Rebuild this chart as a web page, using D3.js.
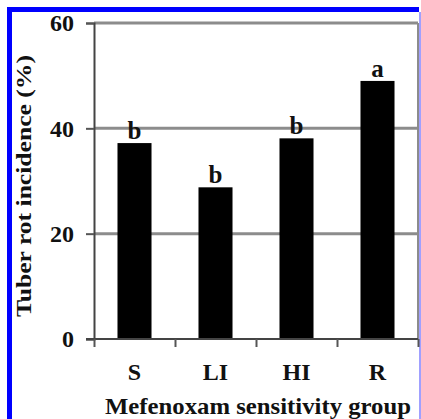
<!DOCTYPE html>
<html>
<head>
<meta charset="utf-8">
<script src="https://cdn.jsdelivr.net/npm/d3@7"></script>
<style>
  body { margin: 0; background: #fff; }
  svg text { font-family: "Liberation Serif", "Times New Roman", serif; font-weight: bold; fill: #111; }
</style>
</head>
<body>
<div id="chart"></div>
<script>
// values
var groups = ["S", "LI", "HI", "R"];
var incidence = [37.2, 28.8, 38.1, 49.0];
var letters = ["b", "b", "b", "a"];
var yTicks = [0, 20, 40, 60];

var W = 421, H = 419;
var mLeft = 94, mRight = 418, mTop = 23, mBottom = 339;

var svg = d3.select("#chart").append("svg")
    .attr("width", W)
    .attr("height", H);

// blue frame of the figure panel
svg.append("path")
    .attr("d", "M9.5,419 V9.5 H419")
    .attr("fill", "none")
    .attr("stroke", "#0000ff")
    .attr("stroke-width", 5);
svg.append("line")
    .attr("x1", 420).attr("x2", 420).attr("y1", 12).attr("y2", 419)
    .attr("stroke", "#a0a0ff").attr("stroke-width", 2);

var x = d3.scaleBand()
    .domain(groups)
    .range([mLeft, mRight])
    .paddingInner(0.58)
    .paddingOuter(0.29);

var y = d3.scaleLinear()
    .domain([0, 60])
    .range([mBottom, mTop]);

// gridlines (60 line doubles as the top of the box)
svg.append("g")
    .selectAll("line")
    .data(yTicks.filter(d => d > 0))
    .join("line")
    .attr("x1", mLeft).attr("x2", mRight)
    .attr("y1", d => y(d)).attr("y2", d => y(d))
    .attr("stroke", "#8c8c8c")
    .attr("stroke-width", 3);

// right side of box
svg.append("line")
    .attr("x1", mRight).attr("x2", mRight)
    .attr("y1", mTop).attr("y2", mBottom)
    .attr("stroke", "#8c8c8c").attr("stroke-width", 2);

// bars
svg.append("g")
    .selectAll("rect")
    .data(incidence)
    .join("rect")
    .attr("x", (d, i) => x(groups[i]))
    .attr("y", d => y(d))
    .attr("width", x.bandwidth())
    .attr("height", d => y(0) - y(d))
    .attr("fill", "#000");

// significance letters
svg.append("g")
    .selectAll("text")
    .data(incidence)
    .join("text")
    .attr("x", (d, i) => x(groups[i]) + x.bandwidth() / 2)
    .attr("y", d => y(d) - 4)
    .attr("text-anchor", "middle")
    .style("font-size", "25px")
    .text((d, i) => letters[i]);

// y axis
var yAxis = svg.append("g")
    .attr("transform", "translate(" + mLeft + ",0)")
    .call(d3.axisLeft(y).tickValues(yTicks).tickSize(8).tickPadding(12));
yAxis.select(".domain").attr("stroke", "#444").attr("stroke-width", 2);
yAxis.selectAll(".tick line").attr("stroke", "#555").attr("stroke-width", 2);
yAxis.selectAll(".tick text")
    .style("font-family", "Liberation Serif")
    .style("font-weight", "bold")
    .style("font-size", "24px")
    .attr("fill", "#111");

// x axis: ticks sit at the band edges
var edge = d3.scaleLinear().domain([0, groups.length]).range([mLeft, mRight]);
var xAxis = svg.append("g")
    .attr("transform", "translate(0," + mBottom + ")")
    .call(d3.axisBottom(edge).ticks(groups.length).tickSize(8).tickFormat(""));
xAxis.select(".domain").attr("d", "M86,0H" + mRight).attr("stroke", "#444").attr("stroke-width", 2);
xAxis.selectAll(".tick line").attr("stroke", "#555").attr("stroke-width", 2);

svg.append("g")
    .selectAll("text")
    .data(groups)
    .join("text")
    .attr("x", d => x(d) + x.bandwidth() / 2)
    .attr("y", 380)
    .attr("text-anchor", "middle")
    .style("font-size", "24px")
    .text(d => d);

// axis titles
svg.append("text")
    .attr("x", 258)
    .attr("y", 414)
    .attr("text-anchor", "middle")
    .attr("textLength", 306)
    .attr("lengthAdjust", "spacingAndGlyphs")
    .style("font-size", "23px")
    .text("Mefenoxam sensitivity group");

svg.append("text")
    .attr("transform", "translate(31,186) rotate(-90)")
    .attr("text-anchor", "middle")
    .attr("textLength", 262)
    .attr("lengthAdjust", "spacingAndGlyphs")
    .style("font-size", "21px")
    .text("Tuber rot incidence (%)");
</script>
</body>
</html>
